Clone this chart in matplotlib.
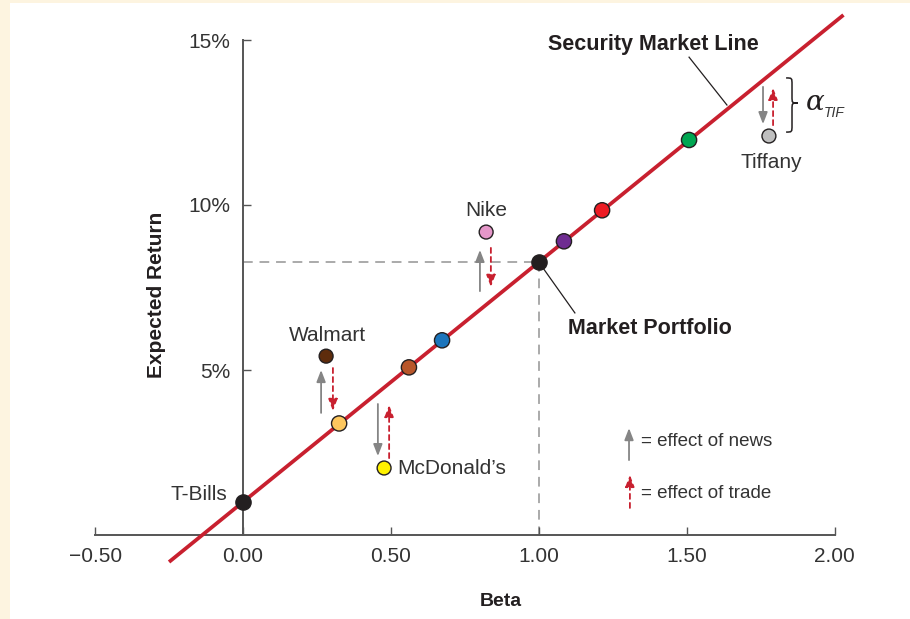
import matplotlib
matplotlib.use("Agg")
import matplotlib.pyplot as plt
from matplotlib.patches import Rectangle, PathPatch
from matplotlib.path import Path

plt.rcParams['font.family'] = ['Liberation Sans', 'DejaVu Sans']

# ---------------- data ----------------
risk_free = 1.0          # % (T-Bills, beta 0)
market_beta = 1.0
market_return = 8.27     # %
sml_beta_range = [-0.25, 2.03]

x_ticks = [-0.5, 0.0, 0.5, 1.0, 1.5, 2.0]
x_tick_labels = ["\u22120.50", "0.00", "0.50", "1.00", "1.50", "2.00"]
y_ticks = [5, 10, 15]
y_tick_labels = ["5%", "10%", "15%"]

# portfolios on the line
line_betas = [0.325, 0.561, 0.673, 1.085, 1.214, 1.508]
line_returns = [3.38, 5.08, 5.90, 8.90, 9.84, 11.97]
line_colors = ["#FDC75E", "#B8562A", "#1C75BC", "#6F2C91", "#ED1C24", "#00A651"]

# individual stocks off the line
stock_names = ["Walmart", "McDonald\u2019s", "Nike", "Tiffany"]
stock_betas = [0.281, 0.477, 0.822, 1.778]
stock_returns = [5.42, 2.03, 9.18, 12.09]
stock_colors = ["#5E2C0C", "#FFF200", "#E597C9", "#BFBFBF"]

# arrows: (beta, from_return, to_return)
news_arrows = [(0.264, 3.70, 5.00), (0.456, 3.97, 2.39), (0.801, 7.39, 8.64), (1.758, 13.58, 12.45)]
trade_arrows = [(0.304, 5.06, 3.76), (0.494, 2.33, 3.94), (0.838, 8.70, 7.52), (1.792, 12.42, 13.55)]
legend_news = (1.305, 2.27, 3.24)
legend_trade = (1.308, 0.82, 1.82)

RED = "#C8202F"
GRAY_ARROW = "#858585"
TXT = "#333333"

# ---------------- figure ----------------
W, H = 910, 619
fig = plt.figure(figsize=(W / 100, H / 100), dpi=100, facecolor="#FDF4E0")
fig.patches.append(Rectangle((10 / W, 0), 1 - 10 / W, 1 - 3 / H, transform=fig.transFigure,
                             facecolor="white", edgecolor="none", zorder=-10))
ax = fig.add_axes([0, 0, 1, 1])
ax.set_facecolor("none")
px_per_beta = 295.8
px_per_pct = 33.0
ax.set_xlim(-243 / px_per_beta, (W - 243) / px_per_beta)
ax.set_ylim((535 - H) / px_per_pct, 535 / px_per_pct)

for s in ["top", "right"]:
    ax.spines[s].set_visible(False)
ax.spines["left"].set_position(("data", 0))
ax.spines["bottom"].set_position(("data", 0))
ax.spines["left"].set_bounds(0, 15)
ax.spines["bottom"].set_bounds(-0.5, 2.0)
for s in ["left", "bottom"]:
    ax.spines[s].set_color("#555555")
    ax.spines[s].set_linewidth(1.4)
    ax.spines[s].set_zorder(1)

ax.set_xticks(x_ticks)
ax.set_xticklabels(x_tick_labels)
ax.set_yticks(y_ticks)
ax.set_yticklabels(y_tick_labels)
ax.tick_params(axis="x", direction="in", length=6, width=1.0, color="#555555",
               pad=9, labelsize=15, labelcolor=TXT)
ax.tick_params(axis="y", direction="in", length=6, width=1.0, color="#555555",
               pad=9, labelsize=15, labelcolor=TXT)

# dashed guides to the market portfolio
ax.plot([0, market_beta], [market_return, market_return], color="#AAAAAA", lw=1.4,
        ls=(0, (5, 3.5)), zorder=1)
ax.plot([market_beta, market_beta], [market_return, 0], color="#AAAAAA", lw=1.4,
        ls=(0, (5, 3.5)), zorder=1)

# security market line
slope = (market_return - risk_free) / market_beta
sml_y = [risk_free + b * slope for b in sml_beta_range]
ax.plot(sml_beta_range, sml_y, color=RED, lw=2.7, solid_capstyle="butt", zorder=2)

# points on the line
ax.scatter(line_betas, line_returns, s=120, c=line_colors, edgecolors="#231F20",
           linewidths=1.0, zorder=5)
ax.scatter([0, market_beta], [risk_free, market_return], s=120, c="#231F20",
           edgecolors="#231F20", linewidths=1.0, zorder=5)
ax.scatter(stock_betas, stock_returns, s=100, c=stock_colors, edgecolors="#231F20",
           linewidths=1.0, zorder=5)


def arrow(spec, color, ls):
    b, r0, r1 = spec
    ax.annotate("", xy=(b, r1), xytext=(b, r0),
                arrowprops=dict(arrowstyle="-|>,head_length=0.7,head_width=0.27",
                                color=color, lw=1.3, ls=ls, shrinkA=0, shrinkB=0),
                zorder=4)


for spec in news_arrows:
    arrow(spec, GRAY_ARROW, "-")
for spec in trade_arrows:
    arrow(spec, RED, (0, (2.8, 2.2)))
arrow(legend_news, GRAY_ARROW, "-")
arrow(legend_trade, RED, (0, (2.8, 2.2)))

# labels
ax.text(1.386, 14.85, "Security Market Line", fontsize=15.5, fontweight="bold",
        color="#231F20", ha="center", va="center")
ax.plot([1.508, 1.636], [14.48, 13.03], color="#231F20", lw=0.9, zorder=3)
ax.text(1.376, 6.27, "Market Portfolio", fontsize=15.5, fontweight="bold",
        color="#231F20", ha="center", va="center")
ax.plot([market_beta, 1.122], [market_return, 6.73], color="#231F20", lw=0.9, zorder=3)

ax.text(-0.054, 1.24, "T-Bills", fontsize=15, color=TXT, ha="right", va="center")
ax.text(0.287, 6.06, stock_names[0], fontsize=15, color=TXT, ha="center", va="center")
ax.text(0.521, 2.0, stock_names[1], fontsize=15, color=TXT, ha="left", va="center")
ax.text(0.822, 9.82, stock_names[2], fontsize=15, color=TXT, ha="center", va="center")
ax.text(1.785, 11.30, stock_names[3], fontsize=15, color=TXT, ha="center", va="center")

ax.text(1.346, 2.82, "= effect of news", fontsize=13.5, color=TXT, ha="left", va="center")
ax.text(1.346, 1.27, "= effect of trade", fontsize=13.5, color=TXT, ha="left", va="center")

# brace for alpha
x0, xm, x1 = 1.836, 1.856, 1.876
yt, ymid, yb = 13.85, 13.09, 12.21
verts = [(x0, yt), (xm, yt), (xm, yt), (xm, yt - 0.2),
         (xm, ymid + 0.2),
         (xm, ymid), (xm, ymid), (x1, ymid),
         (xm, ymid), (xm, ymid), (xm, ymid - 0.2),
         (xm, yb + 0.2),
         (xm, yb), (xm, yb), (x0, yb)]
codes = [Path.MOVETO, Path.CURVE4, Path.CURVE4, Path.CURVE4,
         Path.LINETO,
         Path.CURVE4, Path.CURVE4, Path.CURVE4,
         Path.CURVE4, Path.CURVE4, Path.CURVE4,
         Path.LINETO,
         Path.CURVE4, Path.CURVE4, Path.CURVE4]
ax.add_patch(PathPatch(Path(verts, codes), facecolor="none", edgecolor="#231F20", lw=1.1))
ax.text(1.903, 13.12, "\u03b1", fontsize=20, color="#231F20", ha="left", va="center",
        family="DejaVu Serif", style="italic")
ax.text(1.962, 12.80, "TIF", fontsize=10, style="italic", color="#333333",
        ha="left", va="center")

# axis titles
ax.text(157 / W, 1 - 295 / H, "Expected Return", transform=ax.transAxes, rotation=90,
        fontsize=15, fontweight="bold", color="#231F20", ha="center", va="center")
ax.text(501 / W, 1 - 601 / H, "Beta", transform=ax.transAxes,
        fontsize=14, fontweight="bold", color="#231F20", ha="center", va="center")

fig.savefig("out.png", dpi=100, facecolor=fig.get_facecolor())
